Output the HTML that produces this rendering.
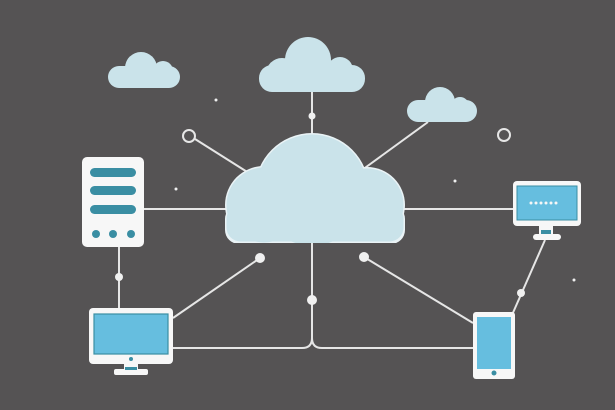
<!DOCTYPE html>
<html><head><meta charset="utf-8"><style>html,body{margin:0;padding:0;background:#555354}svg{display:block}</style></head>
<body>
<svg width="615" height="410" viewBox="0 0 615 410" xmlns="http://www.w3.org/2000/svg">
<defs><clipPath id="c"><rect x="0" y="0" width="615" height="243"/></clipPath></defs>
<rect width="615" height="410" fill="#555354"/>
<g stroke="#e6e6e6" stroke-width="2" fill="none">
<line x1="312" y1="92" x2="312" y2="135"/>
<line x1="195" y1="139" x2="252" y2="175"/>
<line x1="428" y1="122" x2="362" y2="170"/>
<line x1="143" y1="209" x2="226" y2="209"/>
<line x1="404" y1="209" x2="513" y2="209"/>
<path d="M312 242 V338 Q312 348 302 348 H173 M312 338 Q312 348 322 348 H473"/>
<line x1="260" y1="258" x2="173" y2="318"/>
<line x1="364" y1="257" x2="473" y2="323"/>
<line x1="119" y1="247" x2="119" y2="309"/>
<line x1="545" y1="240" x2="512" y2="315"/>
<circle cx="189" cy="136" r="6"/>
<circle cx="504" cy="135" r="6"/>
</g>
<g fill="#f0f0f0">
<circle cx="312" cy="116" r="3.5"/><circle cx="260" cy="258" r="5"/><circle cx="364" cy="257" r="5"/>
<circle cx="312" cy="300" r="5"/><circle cx="119" cy="277" r="4"/><circle cx="521" cy="293" r="4"/>
<circle cx="216" cy="100" r="1.5"/><circle cx="176" cy="189" r="1.5"/><circle cx="455" cy="181" r="1.5"/><circle cx="574" cy="280" r="1.5"/>
</g>
<g fill="#cae3ea">
<g clip-path="url(#c)">
<g fill="#eaf3f6"><circle cx="312" cy="190" r="57"/><circle cx="264" cy="205" r="39"/><circle cx="367" cy="205" r="38"/><rect x="225" y="205" width="180" height="39" rx="14"/></g>
<circle cx="312" cy="190" r="55.5"/><circle cx="264" cy="205" r="37.5"/><circle cx="367" cy="205" r="36.5"/>
<rect x="226.5" y="205" width="177" height="36.5" rx="14"/>
</g>
<!-- top cloud -->
<circle cx="308" cy="60" r="23"/><circle cx="282" cy="74" r="16"/><circle cx="340" cy="70" r="13"/><rect x="259" y="65" width="106" height="27" rx="13"/>
<!-- left cloud -->
<circle cx="141" cy="68" r="16"/><circle cx="163" cy="71" r="10"/><rect x="108" y="66" width="72" height="22" rx="11"/>
<!-- right cloud -->
<circle cx="440" cy="102" r="15"/><circle cx="460" cy="106" r="9"/><rect x="407" y="100" width="70" height="22" rx="11"/>
</g>
<!-- server -->
<rect x="82" y="157" width="62" height="90" rx="5" fill="#f7f7f7"/>
<g fill="#3a8ea3"><rect x="90" y="168" width="46" height="9" rx="4.5"/><rect x="90" y="186" width="46" height="9" rx="4.5"/><rect x="90" y="205" width="46" height="9" rx="4.5"/>
<circle cx="96" cy="234" r="4"/><circle cx="113" cy="234" r="4"/><circle cx="131" cy="234" r="4"/></g>
<!-- left monitor -->
<rect x="89" y="308" width="84" height="56" rx="4" fill="#f7f7f7"/>
<rect x="94" y="314" width="74" height="40" fill="#66bedf" stroke="#3a8ea3" stroke-width="1.2"/>
<circle cx="131" cy="359" r="2" fill="#3a8ea3"/>
<rect x="124" y="364" width="14" height="8" fill="#f7f7f7"/><rect x="114" y="369" width="34" height="6" rx="2" fill="#f7f7f7"/>
<rect x="125" y="367" width="12" height="3" fill="#3a8ea3"/>
<!-- right monitor -->
<rect x="513" y="181" width="68" height="45" rx="4" fill="#f7f7f7"/>
<rect x="517" y="186" width="60" height="34" fill="#66bedf" stroke="#3a8ea3" stroke-width="1"/>
<g fill="#f7f7f7"><circle cx="531" cy="203" r="1.5"/><circle cx="536" cy="203" r="1.5"/><circle cx="541" cy="203" r="1.5"/><circle cx="546" cy="203" r="1.5"/><circle cx="551" cy="203" r="1.5"/><circle cx="556" cy="203" r="1.5"/></g>
<rect x="539" y="226" width="14" height="9" fill="#f7f7f7"/><rect x="533" y="234" width="28" height="6" rx="3" fill="#f7f7f7"/><rect x="541" y="230" width="10" height="4" fill="#3a8ea3"/>
<!-- tablet -->
<rect x="473" y="312" width="42" height="67" rx="3" fill="#f7f7f7"/>
<rect x="477" y="317" width="34" height="52" fill="#66bedf"/>
<circle cx="494" cy="373" r="2.5" fill="#3a8ea3"/>
</svg>
</body></html>
